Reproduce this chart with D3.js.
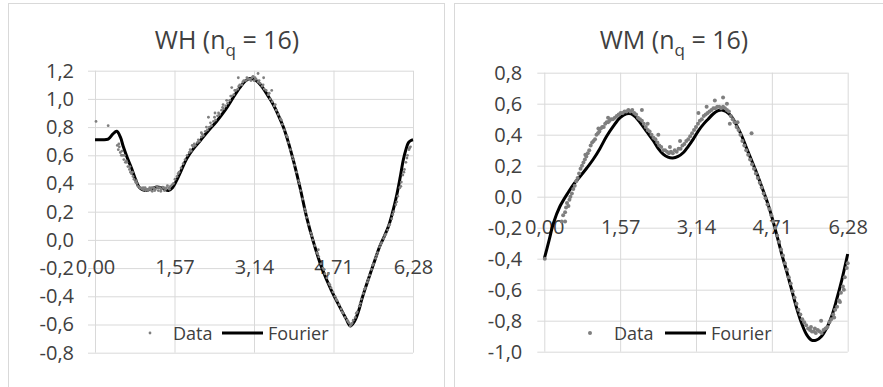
<!DOCTYPE html>
<html>
<head>
<meta charset="utf-8">
<script src="https://cdn.jsdelivr.net/npm/d3@7"></script>
<style>
body { margin: 0; background: #fff; }
text { font-family: "Open Sans", sans-serif; fill: #404040; }
</style>
</head>
<body>
<svg id="chart" width="883" height="387"></svg>
<script>
// tick values shared by both panels
var xTicks = [0, 1.57, 3.14, 4.71, 6.28];
var whYTicks = [-0.8, -0.6, -0.4, -0.2, 0, 0.2, 0.4, 0.6, 0.8, 1.0, 1.2];
var wmYTicks = [-1.0, -0.8, -0.6, -0.4, -0.2, 0, 0.2, 0.4, 0.6, 0.8];

// WH fitted curve
var whFourier = [[0,0.71],[0.15,0.71],[0.26,0.715],[0.35,0.75],[0.43,0.77],[0.5,0.73],[0.56,0.66],[0.64,0.58],
  [0.72,0.51],[0.8,0.43],[0.88,0.37],[0.99,0.35],[1.1,0.36],[1.22,0.375],[1.34,0.365],[1.45,0.35],[1.53,0.37],
  [1.61,0.42],[1.7,0.49],[1.81,0.575],[1.93,0.64],[2.07,0.70],[2.23,0.77],[2.4,0.84],[2.57,0.92],[2.73,1.01],
  [2.86,1.08],[2.96,1.125],[3.06,1.145],[3.14,1.14],[3.23,1.115],[3.32,1.075],[3.42,1.02],[3.52,0.96],[3.62,0.885],
  [3.72,0.80],[3.82,0.69],[3.92,0.56],[4.05,0.37],[4.18,0.16],[4.31,-0.01],[4.48,-0.20],[4.67,-0.36],[4.87,-0.50],
  [4.96,-0.56],[5.04,-0.61],[5.12,-0.58],[5.2,-0.51],[5.27,-0.42],[5.35,-0.33],[5.43,-0.245],[5.53,-0.14],
  [5.63,-0.04],[5.72,0.03],[5.8,0.1],[5.88,0.2],[5.96,0.32],[6.03,0.45],[6.09,0.57],[6.14,0.64],[6.19,0.69],
  [6.24,0.705],[6.28,0.71]];

// WH measured points
var whData = [[0.02,0.84],[0.26,0.81],[0.44,0.67],[0.46,0.64],[0.48,0.66],[0.5,0.62],[0.52,0.6],[0.55,0.6],[0.57,0.57],
  [0.6,0.55],[0.62,0.56],[0.65,0.52],[0.68,0.5],[0.7,0.48],[0.72,0.47],[0.75,0.45],[0.77,0.43],[0.8,0.41],[0.83,0.4],
  [0.85,0.38],[0.88,0.37],[0.9,0.37],[0.93,0.36],[0.96,0.355],[0.99,0.37],[1.02,0.36],[1.05,0.35],[1.08,0.37],
  [1.1,0.355],[1.13,0.345],[1.16,0.37],[1.19,0.36],[1.22,0.38],[1.25,0.35],[1.28,0.37],[1.31,0.36],[1.34,0.375],
  [1.37,0.35],[1.4,0.36],[1.43,0.385],[1.46,0.37],[1.49,0.38],[1.52,0.39],[1.55,0.4],[1.58,0.43],[1.62,0.45],
  [1.66,0.48],[1.7,0.51],[1.74,0.54],[1.78,0.57],[1.82,0.6],[1.86,0.62],[1.9,0.63],[1.94,0.66],[1.98,0.67],
  [2.02,0.69],[2.06,0.7],[2.1,0.73],[2.14,0.74],[2.18,0.77],[2.22,0.78],[2.26,0.8],[2.3,0.81],[2.34,0.84],
  [2.38,0.85],[2.42,0.88],[2.46,0.89],[2.5,0.92],[2.54,0.93],[2.58,0.95],[2.62,0.97],[2.66,0.99],[2.7,1.02],
  [2.74,1.03],[2.78,1.06],[2.82,1.07],[2.86,1.1],[2.9,1.1],[2.94,1.13],[2.98,1.13],[3.02,1.14],[3.06,1.14],
  [3.1,1.15],[3.14,1.13],[3.18,1.14],[3.22,1.12],[3.26,1.11],[3.3,1.09],[3.34,1.07],[3.38,1.06],[3.42,1.03],
  [3.46,1.0],[3.5,0.98],[3.54,0.95],[3.58,0.92],[3.62,0.89],[3.66,0.86],[3.7,0.82],[3.74,0.78],[3.78,0.74],
  [3.82,0.69],[3.86,0.64],[3.9,0.59],[3.94,0.53],[3.98,0.48],[4.02,0.42],[4.06,0.35],[4.1,0.29],[4.14,0.22],
  [4.18,0.16],[4.22,0.11],[4.26,0.05],[4.3,0.0],[4.34,-0.04],[4.38,-0.09],[4.42,-0.12],[4.46,-0.17],[4.5,-0.2],
  [4.54,-0.24],[4.58,-0.27],[4.62,-0.31],[4.66,-0.34],[4.7,-0.37],[4.74,-0.4],[4.78,-0.43],[4.82,-0.46],
  [4.86,-0.49],[4.9,-0.52],[4.94,-0.55],[4.98,-0.57],[5.02,-0.59],[5.06,-0.6],[5.1,-0.57],[5.14,-0.55],
  [5.18,-0.51],[5.22,-0.47],[5.26,-0.42],[5.3,-0.38],[5.34,-0.34],[5.38,-0.3],[5.42,-0.25],[5.46,-0.21],
  [5.5,-0.17],[5.54,-0.13],[5.58,-0.09],[5.62,-0.05],[5.66,-0.02],[5.7,0.01],[5.74,0.04],[5.78,0.07],[5.82,0.11],
  [5.86,0.15],[5.9,0.2],[5.94,0.25],[5.98,0.31],[6.02,0.37],[6.05,0.41],[6.08,0.46],[6.11,0.5],[6.14,0.55],
  [6.17,0.6],[6.2,0.64],[6.23,0.66],
  [0.47,0.68],[0.53,0.63],[0.58,0.6],[0.63,0.55],[0.69,0.52],[0.74,0.48],[0.82,0.42],[0.95,0.37],[1.0,0.35],
  [1.07,0.36],[1.12,0.37],[1.18,0.35],[1.24,0.37],[1.3,0.345],[1.36,0.37],[1.41,0.37],[1.47,0.36],[1.64,0.47],
  [1.88,0.64],[1.96,0.68],[2.04,0.71],[2.12,0.75],[2.2,0.8],[2.28,0.83],[2.36,0.87],[2.44,0.9],[2.52,0.94],
  [2.6,0.99],[2.68,1.02],[2.76,1.06],[2.84,1.09],[2.92,1.12],[3.0,1.15],[3.08,1.13],[3.12,1.16],[3.16,1.15],
  [3.24,1.13],[3.32,1.1],[3.44,1.04],[3.56,0.96],[3.68,0.85],[3.8,0.73],[3.92,0.57],[4.04,0.4],[4.16,0.2],
  [4.28,0.03],[4.4,-0.1],[4.52,-0.21],[4.64,-0.32],[4.76,-0.42],[4.88,-0.51],[5.0,-0.58],[5.04,-0.61],
  [5.08,-0.59],[5.16,-0.52],[5.24,-0.45],[5.32,-0.35],[5.4,-0.28],[5.48,-0.18],[5.56,-0.11],[5.64,-0.03],
  [5.72,0.03],[5.8,0.1],[5.88,0.18],[5.96,0.27],[6.04,0.38],[6.1,0.48],[6.16,0.58],[6.21,0.65],
  [2.24,0.87],[2.37,0.9],[2.53,0.96],[2.7,1.08],[2.83,1.15],[3.22,1.18],[3.33,1.15],[3.49,1.06],[4.41,-0.07],
  [4.61,-0.24],[2.1,0.76],[1.92,0.67]];

// WM fitted curve
var wmFourier = [[0,-0.40],[0.1,-0.28],[0.19,-0.17],[0.32,-0.065],[0.5,0.03],[0.62,0.085],[0.74,0.13],[0.88,0.185],
  [1.01,0.24],[1.15,0.31],[1.29,0.39],[1.43,0.455],[1.57,0.51],[1.7,0.535],[1.8,0.535],[1.9,0.51],[1.98,0.48],
  [2.12,0.42],[2.26,0.36],[2.36,0.31],[2.46,0.275],[2.56,0.255],[2.66,0.25],[2.77,0.26],[2.88,0.285],[2.98,0.325],
  [3.08,0.37],[3.2,0.43],[3.3,0.47],[3.39,0.5],[3.5,0.535],[3.6,0.555],[3.67,0.56],[3.76,0.55],[3.88,0.515],
  [3.98,0.46],[4.09,0.39],[4.19,0.31],[4.29,0.235],[4.4,0.15],[4.5,0.065],[4.61,-0.03],[4.71,-0.13],[4.81,-0.245],
  [4.91,-0.365],[5.02,-0.485],[5.12,-0.6],[5.22,-0.715],[5.33,-0.82],[5.43,-0.89],[5.53,-0.925],[5.63,-0.925],
  [5.74,-0.9],[5.85,-0.845],[5.95,-0.77],[6.05,-0.665],[6.16,-0.535],[6.28,-0.37]];

// WM measured points
var wmData = [[0.01,-0.40],[0.36,-0.16],[0.39,-0.12],[0.43,-0.1],[0.43,-0.16],[0.45,-0.07],[0.47,-0.04],[0.5,-0.06],
  [0.52,-0.02],[0.54,0.0],[0.57,0.02],[0.6,0.05],[0.63,0.07],[0.66,0.1],[0.69,0.12],[0.72,0.15],[0.75,0.18],
  [0.78,0.2],[0.81,0.22],[0.84,0.24],[0.87,0.26],[0.9,0.28],[0.93,0.3],[0.96,0.33],[0.99,0.35],[1.02,0.36],
  [1.05,0.37],[1.08,0.4],[1.11,0.41],[1.14,0.42],[1.17,0.44],[1.2,0.45],[1.23,0.45],[1.26,0.47],[1.29,0.48],
  [1.32,0.48],[1.35,0.49],[1.38,0.5],[1.42,0.5],[1.46,0.51],[1.5,0.52],[1.54,0.53],[1.58,0.54],[1.62,0.54],
  [1.66,0.55],[1.7,0.55],[1.74,0.56],[1.78,0.55],[1.82,0.56],[1.86,0.54],[1.9,0.53],[1.94,0.51],[1.98,0.5],
  [2.02,0.49],[2.06,0.47],[2.1,0.45],[2.14,0.43],[2.18,0.42],[2.22,0.4],[2.26,0.38],[2.3,0.37],[2.34,0.35],
  [2.38,0.33],[2.42,0.32],[2.46,0.3],[2.5,0.3],[2.54,0.29],[2.58,0.28],[2.62,0.29],[2.66,0.28],[2.7,0.3],
  [2.74,0.29],[2.78,0.31],[2.82,0.31],[2.86,0.33],[2.9,0.34],[2.94,0.36],[2.98,0.37],[3.02,0.39],[3.06,0.41],
  [3.1,0.43],[3.14,0.45],[3.18,0.47],[3.22,0.49],[3.26,0.5],[3.3,0.52],[3.34,0.53],[3.38,0.54],[3.42,0.55],
  [3.46,0.56],[3.5,0.57],[3.54,0.57],[3.58,0.58],[3.62,0.58],[3.66,0.57],[3.7,0.58],[3.74,0.57],[3.78,0.56],
  [3.82,0.55],[3.86,0.52],[3.9,0.5],[3.94,0.48],[3.98,0.45],[4.02,0.43],[4.06,0.4],[4.1,0.36],[4.14,0.33],
  [4.18,0.3],[4.22,0.27],[4.26,0.24],[4.3,0.21],[4.34,0.18],[4.38,0.15],[4.42,0.12],[4.46,0.09],[4.5,0.06],
  [4.54,0.02],[4.58,-0.01],[4.62,-0.05],[4.66,-0.08],[4.7,-0.12],[4.74,-0.16],[4.78,-0.2],[4.82,-0.25],
  [4.86,-0.29],[4.9,-0.34],[4.94,-0.38],[4.98,-0.43],[5.02,-0.47],[5.06,-0.52],[5.1,-0.56],[5.14,-0.61],
  [5.18,-0.65],[5.22,-0.69],[5.26,-0.73],[5.3,-0.76],[5.34,-0.79],[5.38,-0.81],[5.42,-0.83],[5.46,-0.85],
  [5.5,-0.86],[5.54,-0.87],[5.58,-0.87],[5.62,-0.88],[5.66,-0.86],[5.7,-0.87],[5.74,-0.88],[5.78,-0.86],
  [5.82,-0.85],[5.86,-0.84],[5.9,-0.81],[5.94,-0.79],[5.98,-0.76],[6.02,-0.73],[6.06,-0.71],[6.1,-0.67],
  [6.14,-0.62],[6.18,-0.58],[6.22,-0.52],[6.26,-0.46],[6.28,-0.43],
  [2.02,0.56],[2.36,0.4],[2.81,0.36],[3.19,0.54],[3.36,0.58],[3.53,0.62],[3.7,0.64],[4.29,0.41],[5.73,-0.8],
  [2.14,0.47],[2.6,0.32],[3.84,0.47],[3.78,0.6],[1.32,0.51],[1.12,0.44],[0.85,0.27],[4.0,0.48],[6.0,-0.78],
  [6.12,-0.68],[6.2,-0.6],[5.6,-0.85],[5.52,-0.84]];

var svg = d3.select("#chart");

svg.append("rect")
  .attr("width", 883)
  .attr("height", 387)
  .style("fill", "white");

//format numbers with a decimal comma like the original
function commaFormat(digits) {
  return function (d) { return d.toFixed(digits).replace(".", ","); };
}

//draw one of the two charts
function drawPanel(p) {
  var g = svg.append("g");

  //outer frame of the chart
  g.append("rect")
    .attr("x", p.frame[0] + 0.5)
    .attr("y", p.frame[1] + 0.5)
    .attr("width", p.frame[2])
    .attr("height", p.frame[3])
    .style("fill", "none")
    .style("stroke", "#d9d9d9");

  var x = d3.scaleLinear().domain([0, 6.28]).range([p.left, p.right]);
  var y = d3.scaleLinear().domain(p.yDomain).range([p.bottom, p.top]);

  //horizontal gridlines and value labels
  var yAxis = g.append("g")
    .attr("transform", "translate(" + (p.left - 7) + ",0)")
    .call(d3.axisLeft(y)
      .tickValues(p.yTicks)
      .tickSize(-(p.right - p.left + 7))
      .tickPadding(p.yPad)
      .tickFormat(commaFormat(1)));
  yAxis.select(".domain").remove();

  //vertical gridlines
  var xGrid = g.append("g")
    .attr("transform", "translate(0," + p.top + ")")
    .call(d3.axisBottom(x).tickValues(xTicks).tickSize(p.bottom - p.top).tickFormat(""));
  xGrid.select(".domain").remove();

  //x labels sit under the zero line
  var xAxis = g.append("g")
    .attr("transform", "translate(0," + y(0) + ")")
    .call(d3.axisBottom(x).tickValues(xTicks).tickSize(0).tickPadding(p.xPad).tickFormat(commaFormat(2)));
  xAxis.select(".domain").remove();

  g.selectAll(".tick line").style("stroke", "#d9d9d9").style("stroke-width", 1);
  g.selectAll(".tick text").style("font-size", "20px");

  //title with subscript
  var title = g.append("text")
    .attr("x", p.titleX)
    .attr("y", 49)
    .attr("text-anchor", "middle")
    .style("font-size", "25px");
  title.append("tspan").text(p.name + " (n");
  title.append("tspan").attr("dy", 7).style("font-size", "17px").text("q");
  title.append("tspan").attr("dy", -7).text(" = 16)");

  var line = d3.line()
    .x(function (d) { return x(d[0]); })
    .y(function (d) { return y(d[1]); })
    .curve(d3.curveCatmullRom);

  g.append("path")
    .datum(p.fourier)
    .attr("d", line)
    .style("fill", "none")
    .style("stroke", "black")
    .style("stroke-width", 3)
    .style("stroke-linejoin", "round");

  g.selectAll(".dot")
    .data(p.data)
    .enter().append("circle")
    .attr("class", "dot")
    .attr("cx", function (d) { return x(d[0]); })
    .attr("cy", function (d) { return y(d[1]); })
    .attr("r", p.dotR)
    .style("fill", "#7f7f7f");

  //legend
  var leg = p.legend;
  g.append("circle").attr("cx", leg[0]).attr("cy", 333).attr("r", p.dotR).style("fill", "#7f7f7f");
  g.append("text").attr("x", leg[1]).attr("y", 339.5).style("font-size", "18px").text("Data");
  g.append("line")
    .attr("x1", leg[2]).attr("x2", leg[3])
    .attr("y1", 333).attr("y2", 333)
    .style("stroke", "black")
    .style("stroke-width", 3);
  g.append("text").attr("x", leg[4]).attr("y", 339.5).style("font-size", "18px").text("Fourier");
}

drawPanel({name: "WH", frame: [8, 3, 436, 400], left: 95, right: 413, top: 70.7, bottom: 352.7,
  yDomain: [-0.8, 1.2], yTicks: whYTicks, yPad: 14, xPad: 20, titleX: 227,
  fourier: whFourier, data: whData, dotR: 1.4, legend: [150, 173, 222, 263, 268]});

drawPanel({name: "WM", frame: [454, 3, 440, 400], left: 544.3, right: 847.7, top: 72.7, bottom: 351.7,
  yDomain: [-1.0, 0.8], yTicks: wmYTicks, yPad: 15, xPad: 23, titleX: 674,
  fourier: wmFourier, data: wmData, dotR: 2, legend: [590, 614, 665, 706, 711]});
</script>
</body>
</html>
